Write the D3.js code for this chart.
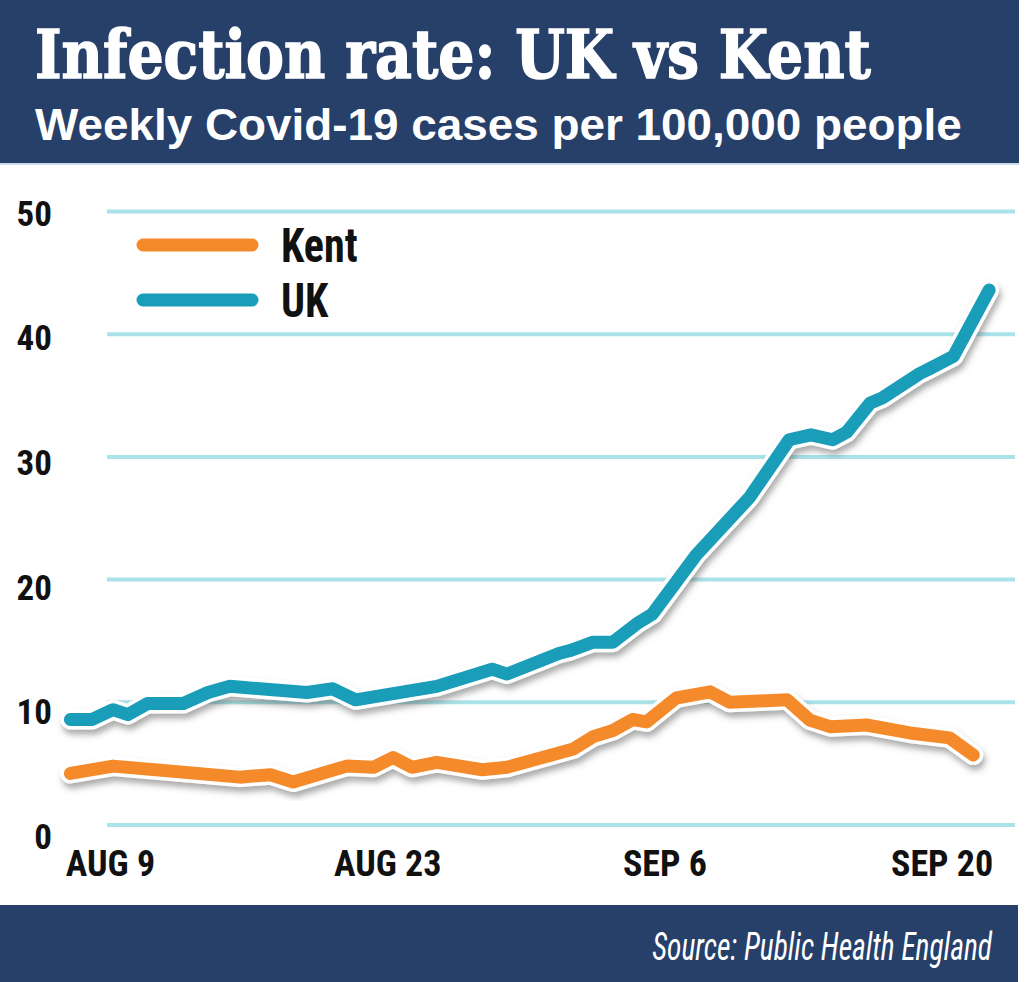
<!DOCTYPE html>
<html><head><meta charset="utf-8">
<script src="https://cdn.jsdelivr.net/npm/d3@7"></script>
<style>body{margin:0;background:#fff}svg{display:block}</style>
</head><body>
<svg id="chart" width="1025" height="982"></svg>
<script>
// ---- data ----
const seriesNames = ["Kent", "UK"];
// x = days after Aug 9
const kentDay = [-2.0,0.15,6.55,8.1,9.25,11.95,13.3,14.3,15.25,16.5,18.8,20.05,23.4,24.4,25.4,26.4,27.1,28.6,30.3,31.3,34.2,35.35,36.4,38.2,40.4,42.4,43.6];
const kentValue = [4.2,4.8,3.9,4.1,3.5,4.8,4.7,5.5,4.7,5.1,4.5,4.7,6.2,7.2,7.7,8.6,8.4,10.35,10.85,10.0,10.2,8.55,8.0,8.15,7.5,7.1,5.7];
const ukDay = [-2.0,-0.9,0.15,0.9,1.9,3.7,4.95,6.05,9.95,11.25,12.4,16.5,19.3,20.05,22.7,23.2,24.4,25.4,26.6,27.4,29.6,32.3,34.3,35.4,36.5,37.2,38.4,39.0,40.9,41.4,42.6,44.4];
const ukValue = [8.6,8.6,9.4,9.0,9.9,9.9,10.8,11.3,10.8,11.1,10.2,11.3,12.7,12.3,14.0,14.2,14.9,14.9,16.4,17.2,22.0,26.7,31.4,31.8,31.4,32.0,34.4,34.8,36.8,37.2,38.2,43.6];
const xTickDays = [0, 14, 28, 42];
const xTickLabels = ["AUG 9", "AUG 23", "SEP 6", "SEP 20"];
const yTicks = [0, 10, 20, 30, 40, 50];

const title = "Infection rate: UK vs Kent";
const subtitle = "Weekly Covid-19 cases per 100,000 people";
const source = "Source: Public Health England";

const NAVY = "#26406a", ORANGE = "#f58a2a", TEAL = "#199db9", GRID = "#a9e2e8";
const condensed = "'Liberation Sans Narrow','Arial Narrow','Roboto Condensed',sans-serif";

const svg = d3.select("#chart");

// helper: fit a text horizontally to a target width via transform
function fitText(sel, x0, y0, target) {
  const w = sel.node().getComputedTextLength();
  const k = target / w;
  sel.attr("x", 0).attr("y", 0)
     .attr("transform", `translate(${x0},${y0}) scale(${k},1)`);
}

// shadow filter
const defs = svg.append("defs");
const f = defs.append("filter").attr("id","shadow").attr("x","-10%").attr("y","-10%").attr("width","120%").attr("height","130%");
f.append("feDropShadow").attr("dx",2).attr("dy",5).attr("stdDeviation",3)
  .attr("flood-color","#555").attr("flood-opacity",0.5);

// header
svg.append("rect").attr("x",0).attr("y",0).attr("width",1019).attr("height",163).attr("fill",NAVY);
svg.append("rect").attr("x",0).attr("y",163).attr("width",1019).attr("height",2).attr("fill","#c9dbe6");
const tt = svg.append("text").text(title)
  .attr("fill","#fff").attr("stroke","#fff").attr("stroke-width",1.6)
  .attr("font-family","'DejaVu Serif',serif").attr("font-weight","bold")
  .attr("font-size",68);
fitText(tt, 35, 78, 836);
const st = svg.append("text").text(subtitle)
  .attr("fill","#fff").attr("font-family","'Liberation Sans',Arial,sans-serif").attr("font-weight","bold")
  .attr("font-size",45);
fitText(st, 35, 140, 927);

// footer
svg.append("rect").attr("x",0).attr("y",905).attr("width",1018).attr("height",77).attr("fill",NAVY);
const so = svg.append("text").text(source).attr("text-anchor","end")
  .attr("fill","#fff").attr("font-family",condensed).attr("font-style","italic")
  .attr("font-size",38);
fitText(so, 992, 960, 340);

// scales
const x = d3.scaleLinear().domain([0, 42]).range([110, 941.6]);
const y = d3.scaleLinear().domain([0, 50]).range([825, 211.5]);
const yLab = d3.scaleLinear().domain([0, 50]).range([837, 214]);

// gridlines
svg.append("g").selectAll("line").data(yTicks).join("line")
  .attr("x1",107).attr("x2",1015)
  .attr("y1",d=>y(d)).attr("y2",d=>y(d))
  .attr("stroke",GRID).attr("stroke-width",4);

// y labels via axis
const yAxis = svg.append("g").attr("transform","translate(52,0)")
  .call(d3.axisLeft(yLab).tickValues(yTicks).tickSize(0).tickPadding(0).tickFormat(d3.format("d")));
yAxis.select(".domain").remove();
yAxis.selectAll("text").attr("font-family",condensed).attr("font-weight","bold")
  .attr("font-size",35).attr("fill","#111");

// x labels via axis
const xAxis = svg.append("g").attr("transform","translate(0,850)")
  .call(d3.axisBottom(x).tickValues(xTickDays).tickSize(0).tickPadding(0)
    .tickFormat((d,i)=>xTickLabels[i]));
xAxis.select(".domain").remove();
xAxis.selectAll("text").attr("font-family",condensed).attr("font-weight","bold")
  .attr("font-size",36).attr("fill","#111");

// lines
const line = d3.line().x(d=>x(d[0])).y(d=>y(d[1]));
const series = [
  {name:"Kent", color:ORANGE, pts:d3.zip(kentDay, kentValue)},
  {name:"UK", color:TEAL, pts:d3.zip(ukDay, ukValue)}
];
const g = svg.append("g");
series.forEach(s=>{
  g.append("path").attr("d",line(s.pts)).attr("fill","none").attr("stroke","#fff")
    .attr("stroke-width",20).attr("stroke-linejoin","round").attr("stroke-linecap","round")
    .attr("filter","url(#shadow)");
  g.append("path").attr("d",line(s.pts)).attr("fill","none").attr("stroke",s.color)
    .attr("stroke-width",13).attr("stroke-linejoin","round").attr("stroke-linecap","round");
});

// legend
const leg = svg.append("g");
series.forEach((s,i)=>{
  const ly = 245 + i*55;
  leg.append("line").attr("x1",143).attr("x2",252).attr("y1",ly).attr("y2",ly)
    .attr("stroke","#fff").attr("stroke-width",20).attr("stroke-linecap","round").attr("filter","url(#shadow)");
  leg.append("line").attr("x1",143).attr("x2",252).attr("y1",ly).attr("y2",ly)
    .attr("stroke",s.color).attr("stroke-width",13).attr("stroke-linecap","round");
  const t = leg.append("text").text(s.name)
    .attr("font-family",condensed).attr("font-weight","bold").attr("font-size",49).attr("fill","#111");
  const w = t.node().getComputedTextLength();
  fitText(t, 281, ly+17, w*0.86);
});
</script>
</body></html>
